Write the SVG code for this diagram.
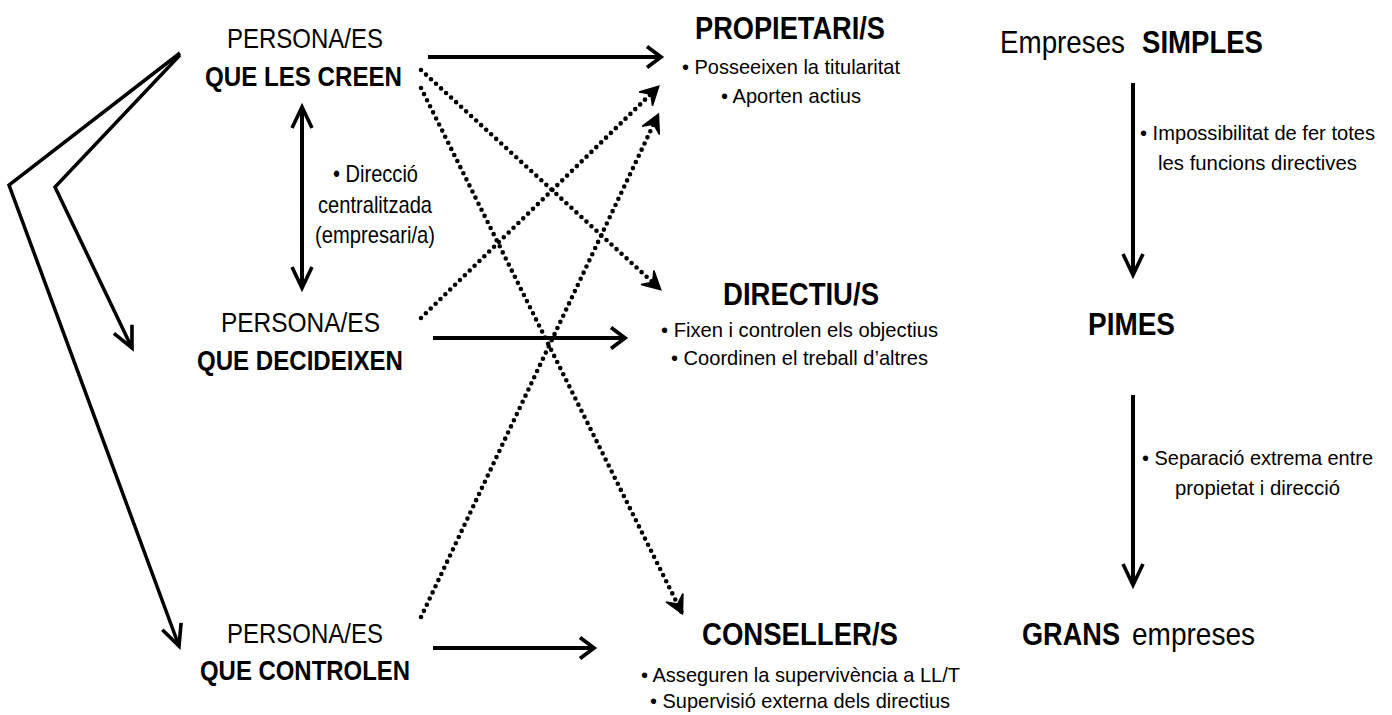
<svg xmlns="http://www.w3.org/2000/svg" width="1392" height="715" viewBox="0 0 1392 715">
  <style>
    text { font-family: "Liberation Sans Narrow", "Liberation Sans", Arial, sans-serif; fill: #000; }
    .head { font-size: 28px; }
    .title { font-size: 31px; font-weight: bold; }
    .big { font-size: 32px; }
    .bold { font-weight: bold; }
    .note { font-size: 24px; }
    .item { font-size: 21px; }
    .solid { fill: none; stroke: #000; stroke-width: 4; }
    .thin { fill: none; stroke: #000; stroke-width: 3.5; stroke-linejoin: miter; }
    .dots { fill: none; stroke: #000; stroke-width: 4.6; stroke-linecap: round; stroke-dasharray: 0 6.8; }
  </style>
  <defs>
    <!-- short open arrowhead for the horizontal links -->
    <marker id="head" markerUnits="userSpaceOnUse" viewBox="-24 -16 30 32" markerWidth="30" markerHeight="32" refX="0" refY="0" orient="auto">
      <path d="M-14,-10.5 L0,0 L-14,10.5" fill="none" stroke="#000" stroke-width="3.8" stroke-dasharray="none" stroke-linejoin="miter"/>
    </marker>
    <!-- long narrow open arrowhead for the vertical and bent links -->
    <marker id="longhead" markerUnits="userSpaceOnUse" viewBox="-30 -16 36 32" markerWidth="36" markerHeight="32" refX="0" refY="0" orient="auto-start-reverse">
      <path d="M-21,-10 L0,0 L-21,10" fill="none" stroke="#000" stroke-width="3.6" stroke-dasharray="none" stroke-linejoin="miter"/>
    </marker>
    <!-- notched arrowhead for dotted links -->
    <marker id="dothead" markerUnits="userSpaceOnUse" viewBox="-24 -16 30 32" markerWidth="30" markerHeight="32" refX="0" refY="0" orient="auto">
      <path d="M1,0 L-17,-9.5 L-10,0 L-17,9.5 Z" fill="#000" stroke="#000" stroke-width="1.5" stroke-dasharray="none" stroke-linejoin="miter"/>
    </marker>
  </defs>

  <rect width="1392" height="715" fill="#fff"/>

  <!-- connectors -->
  <g id="connectors">
    <!-- bent arrows from the creators down to the other two groups -->
    <polyline class="thin" points="180,53 9,185 179,646" marker-end="url(#longhead)"/>
    <polyline class="thin" points="180,55 55,187 132,348" marker-end="url(#longhead)"/>
    <!-- centralised management link -->
    <line class="solid" x1="302" y1="107" x2="302" y2="288" marker-start="url(#longhead)" marker-end="url(#longhead)"/>
    <!-- main horizontal links -->
    <line class="solid" x1="428" y1="57" x2="661" y2="57" marker-end="url(#head)"/>
    <line class="solid" x1="433" y1="338" x2="625" y2="338" marker-end="url(#head)"/>
    <line class="solid" x1="433" y1="648" x2="594" y2="648" marker-end="url(#head)"/>
    <!-- crossing dotted links -->
    <line class="dots" x1="421" y1="70" x2="660" y2="289" marker-end="url(#dothead)"/>
    <line class="dots" x1="421" y1="88" x2="682" y2="613" marker-end="url(#dothead)"/>
    <line class="dots" x1="421" y1="318" x2="658" y2="87" marker-end="url(#dothead)"/>
    <line class="dots" x1="421" y1="617" x2="658" y2="115" marker-end="url(#dothead)"/>
    <!-- company size progression -->
    <line class="solid" x1="1133" y1="83" x2="1133" y2="275" marker-end="url(#longhead)"/>
    <line class="solid" x1="1133" y1="395" x2="1133" y2="585" marker-end="url(#longhead)"/>
  </g>

  <!-- people -->
  <g id="node-creen">
    <text class="head" x="227" y="48" textLength="156" lengthAdjust="spacingAndGlyphs">PERSONA/ES</text>
    <text class="head bold" x="205" y="86" textLength="197" lengthAdjust="spacingAndGlyphs">QUE LES CREEN</text>
  </g>
  <g id="label-direccio">
    <text class="note" x="333" y="182" textLength="85" lengthAdjust="spacingAndGlyphs">• Direcció</text>
    <text class="note" x="318" y="213" textLength="114" lengthAdjust="spacingAndGlyphs">centralitzada</text>
    <text class="note" x="315" y="243" textLength="120" lengthAdjust="spacingAndGlyphs">(empresari/a)</text>
  </g>
  <g id="node-decideixen">
    <text class="head" x="221" y="332" textLength="159" lengthAdjust="spacingAndGlyphs">PERSONA/ES</text>
    <text class="head bold" x="197" y="370" textLength="206" lengthAdjust="spacingAndGlyphs">QUE DECIDEIXEN</text>
  </g>
  <g id="node-controlen">
    <text class="head" x="227" y="643" textLength="156" lengthAdjust="spacingAndGlyphs">PERSONA/ES</text>
    <text class="head bold" x="200" y="680" textLength="210" lengthAdjust="spacingAndGlyphs">QUE CONTROLEN</text>
  </g>

  <!-- roles -->
  <g id="node-propietaris">
    <text class="title" x="695" y="39" textLength="190" lengthAdjust="spacingAndGlyphs">PROPIETARI/S</text>
    <text class="item" x="682" y="74" textLength="218" lengthAdjust="spacingAndGlyphs">• Posseeixen la titularitat</text>
    <text class="item" x="721" y="103" textLength="140" lengthAdjust="spacingAndGlyphs">• Aporten actius</text>
  </g>
  <g id="node-directius">
    <text class="title" x="723" y="305" textLength="156" lengthAdjust="spacingAndGlyphs">DIRECTIU/S</text>
    <text class="item" x="661" y="337" textLength="277" lengthAdjust="spacingAndGlyphs">• Fixen i controlen els objectius</text>
    <text class="item" x="671" y="365" textLength="257" lengthAdjust="spacingAndGlyphs">• Coordinen el treball d’altres</text>
  </g>
  <g id="node-consellers">
    <text class="title" x="702" y="645" textLength="196" lengthAdjust="spacingAndGlyphs">CONSELLER/S</text>
    <text class="item" x="641" y="682" textLength="319" lengthAdjust="spacingAndGlyphs">• Asseguren la supervivència a LL/T</text>
    <text class="item" x="650" y="708" textLength="300" lengthAdjust="spacingAndGlyphs">• Supervisió externa dels directius</text>
  </g>

  <!-- company types -->
  <g id="node-simples">
    <text class="big" x="1000" y="53" textLength="125" lengthAdjust="spacingAndGlyphs">Empreses</text>
    <text class="big bold" x="1142" y="53" textLength="121" lengthAdjust="spacingAndGlyphs">SIMPLES</text>
  </g>
  <g id="label-impossibilitat">
    <text class="item" x="1140" y="140" textLength="235" lengthAdjust="spacingAndGlyphs">• Impossibilitat de fer totes</text>
    <text class="item" x="1158" y="170" textLength="199" lengthAdjust="spacingAndGlyphs">les funcions directives</text>
  </g>
  <g id="node-pimes">
    <text class="title" x="1088" y="335" textLength="87" lengthAdjust="spacingAndGlyphs">PIMES</text>
  </g>
  <g id="label-separacio">
    <text class="item" x="1142" y="465" textLength="231" lengthAdjust="spacingAndGlyphs">• Separació extrema entre</text>
    <text class="item" x="1175" y="495" textLength="165" lengthAdjust="spacingAndGlyphs">propietat i direcció</text>
  </g>
  <g id="node-grans">
    <text class="big bold" x="1022" y="645" textLength="98" lengthAdjust="spacingAndGlyphs">GRANS</text>
    <text class="big" x="1132" y="645" textLength="123" lengthAdjust="spacingAndGlyphs">empreses</text>
  </g>
</svg>
